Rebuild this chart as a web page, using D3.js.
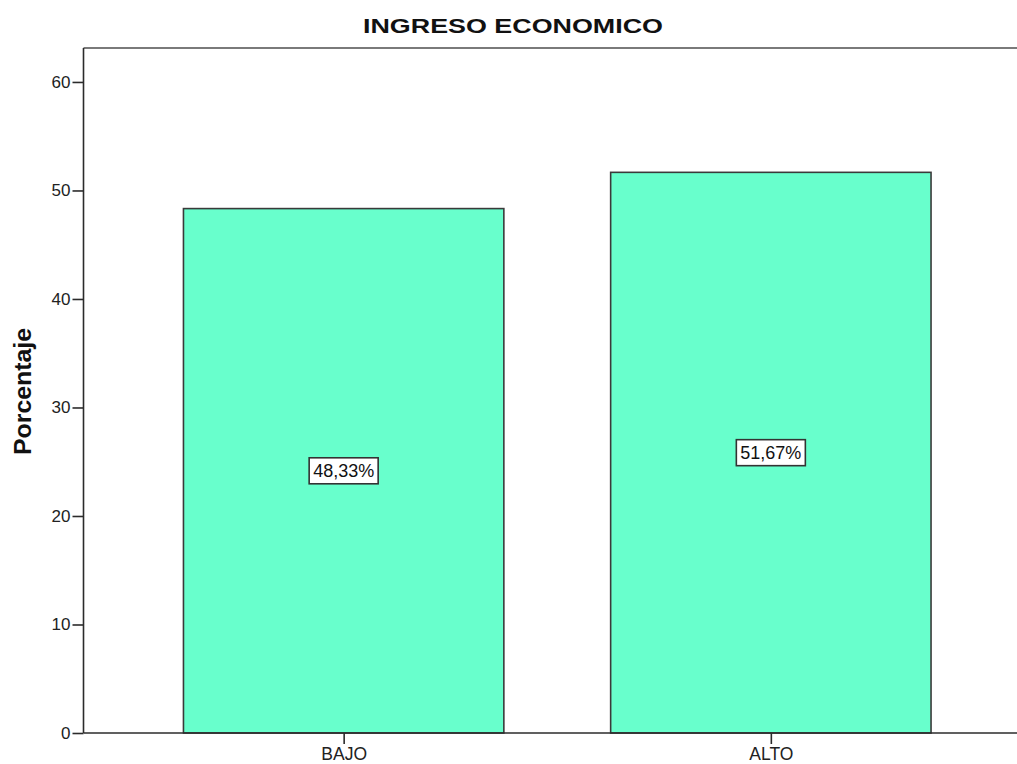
<!DOCTYPE html>
<html>
<head>
<meta charset="utf-8">
<script src="https://cdn.jsdelivr.net/npm/d3@7"></script>
<style>
  html, body { margin: 0; padding: 0; background: #fff; }
  svg { display: block; font-family: "Liberation Sans", Arial, sans-serif; }
</style>
</head>
<body>
<svg id="chart" width="1017" height="764"></svg>
<script>
// Income level distribution (percent of respondents)
const categories = ["BAJO", "ALTO"];
const percents = [48.33, 51.67];
const valueLabels = ["48,33%", "51,67%"];
const yTicks = [0, 10, 20, 30, 40, 50, 60];

const W = 1017, H = 764;
const plot = { left: 83.5, top: 48, bottom: 733, right: 1031 };

const svg = d3.select("#chart");

const y = d3.scaleLinear().domain([0, 63.13]).range([plot.bottom, plot.top]);
const x = d3.scalePoint().domain(categories).range([plot.left, plot.right]).padding(0.609);
const barW = x.step() * 0.75;

// frame: top border
svg.append("line")
  .attr("x1", plot.left).attr("x2", W)
  .attr("y1", plot.top).attr("y2", plot.top)
  .attr("stroke", "#7a7a7a").attr("stroke-width", 2);

// bars
svg.append("g").selectAll("rect")
  .data(categories)
  .join("rect")
  .attr("x", d => x(d) - barW / 2)
  .attr("y", (d, i) => y(percents[i]))
  .attr("width", barW)
  .attr("height", (d, i) => y(0) - y(percents[i]))
  .attr("fill", "#68FFCC")
  .attr("stroke", "#3a3a3a")
  .attr("stroke-width", 1.6);

// y axis
const yAxis = svg.append("g")
  .attr("transform", `translate(${plot.left},0)`)
  .call(d3.axisLeft(y).tickValues(yTicks).tickSize(11).tickPadding(2).tickFormat(d3.format("d")));
yAxis.select(".domain").attr("stroke", "#2b2b2b").attr("stroke-width", 1.6)
  .attr("d", `M0,${plot.top}V${plot.bottom}`);
yAxis.selectAll(".tick line").attr("stroke", "#2b2b2b").attr("stroke-width", 1.6);
yAxis.selectAll(".tick text").attr("font-size", 17).attr("fill", "#222")
  .attr("font-family", "Liberation Sans, Arial, sans-serif");

// x axis
const xAxis = svg.append("g")
  .attr("transform", `translate(0,${plot.bottom})`)
  .call(d3.axisBottom(x).tickSize(11).tickPadding(4));
xAxis.select(".domain").attr("stroke", "#2b2b2b").attr("stroke-width", 1.6)
  .attr("d", `M${plot.left},0H${W}`);
xAxis.selectAll(".tick line").attr("stroke", "#2b2b2b").attr("stroke-width", 1.6);
xAxis.selectAll(".tick text").attr("font-size", 17.5).attr("fill", "#222")
  .attr("font-family", "Liberation Sans, Arial, sans-serif");

// value labels in boxes at bar mid-height
const lab = svg.append("g").selectAll("g")
  .data(categories)
  .join("g")
  .attr("transform", (d, i) => `translate(${x(d)},${y(percents[i] / 2)})`);
lab.append("rect")
  .attr("x", -34.5).attr("y", -13)
  .attr("width", 69).attr("height", 26)
  .attr("fill", "#fff").attr("stroke", "#333").attr("stroke-width", 1.6);
lab.append("text")
  .attr("text-anchor", "middle").attr("dy", "0.35em")
  .attr("font-size", 18).attr("fill", "#111")
  .text((d, i) => valueLabels[i]);

// title
svg.append("text")
  .attr("x", 513).attr("y", 33)
  .attr("text-anchor", "middle")
  .attr("font-size", 21).attr("font-weight", "bold").attr("fill", "#111")
  .attr("textLength", 300).attr("lengthAdjust", "spacingAndGlyphs")
  .text("INGRESO ECONOMICO");

// y axis title
svg.append("text")
  .attr("transform", `translate(31,391.5) rotate(-90)`)
  .attr("text-anchor", "middle")
  .attr("font-size", 23).attr("font-weight", "bold").attr("fill", "#111")
  .attr("textLength", 127).attr("lengthAdjust", "spacingAndGlyphs")
  .text("Porcentaje");
</script>
</body>
</html>
